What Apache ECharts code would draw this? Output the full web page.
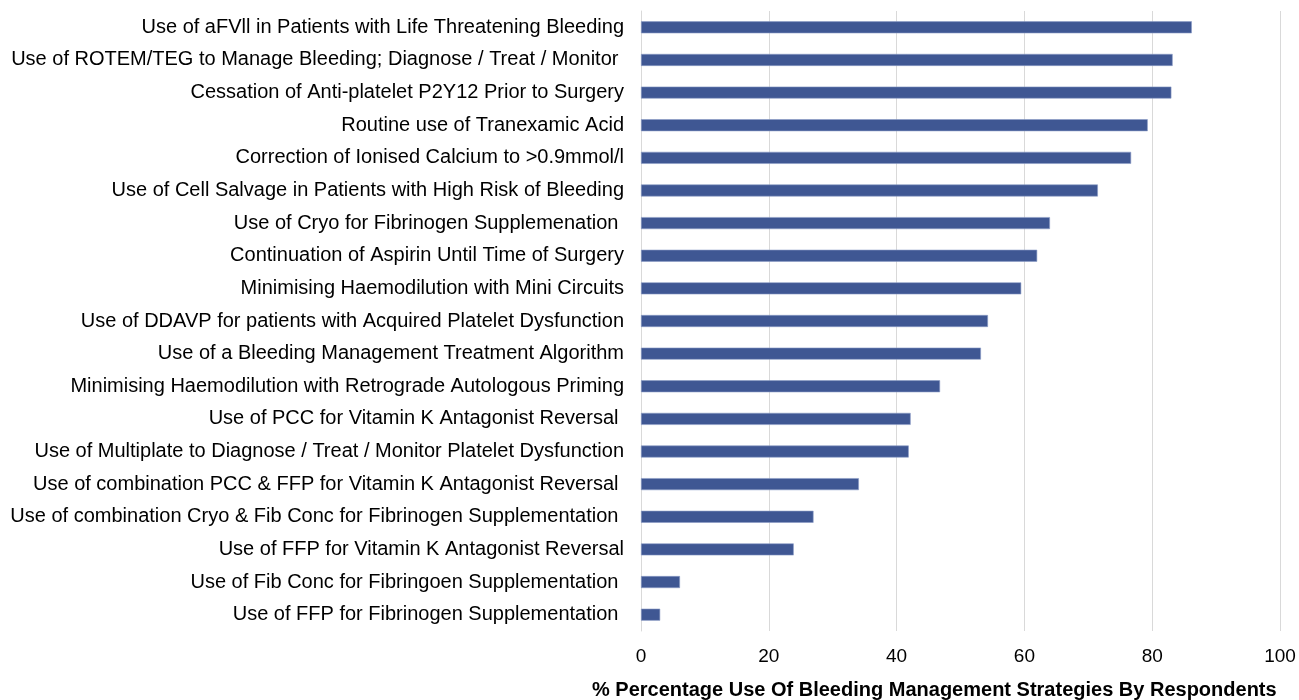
<!DOCTYPE html>
<html><head><meta charset="utf-8">
<script src="https://cdn.jsdelivr.net/npm/echarts@6/dist/echarts.min.js"></script>
<style>html,body{margin:0;padding:0;background:#fff}#c{width:1299px;height:700px}</style>
</head><body><div id="c"></div>
<script>
const categories = [
  "Use of aFVll in Patients with Life Threatening Bleeding",
  "Use of ROTEM/TEG to Manage Bleeding; Diagnose / Treat / Monitor ",
  "Cessation of Anti-platelet P2Y12 Prior to Surgery",
  "Routine use of Tranexamic Acid",
  "Correction of Ionised Calcium to >0.9mmol/l",
  "Use of Cell Salvage in Patients with High Risk of Bleeding",
  "Use of Cryo for Fibrinogen Supplemenation ",
  "Continuation of Aspirin Until Time of Surgery",
  "Minimising Haemodilution with Mini Circuits",
  "Use of DDAVP for patients with Acquired Platelet Dysfunction",
  "Use of a Bleeding Management Treatment Algorithm",
  "Minimising Haemodilution with Retrograde Autologous Priming",
  "Use of PCC for Vitamin K Antagonist Reversal ",
  "Use of Multiplate to Diagnose / Treat / Monitor Platelet Dysfunction",
  "Use of combination PCC & FFP for Vitamin K Antagonist Reversal ",
  "Use of combination Cryo & Fib Conc for Fibrinogen Supplementation ",
  "Use of FFP for Vitamin K Antagonist Reversal",
  "Use of Fib Conc for Fibringoen Supplementation ",
  "Use of FFP for Fibrinogen Supplementation "
];
const values = [86.2, 83.2, 83.0, 79.3, 76.7, 71.5, 64.0, 62.0, 59.5, 54.3, 53.2, 46.8, 42.2, 41.9, 34.1, 27.0, 23.9, 6.1, 3.0];
const xTicks = [0, 20, 40, 60, 80, 100];
const axisTitle = "% Percentage Use Of Bleeding Management Strategies By Respondents";

const chart = echarts.init(document.getElementById('c'));
chart.setOption({
  animation: false,
  textStyle: { fontFamily: 'Liberation Sans, Arial, sans-serif' },
  title: {
    text: axisTitle,
    left: 592, top: 680, padding: 0,
    textStyle: { fontSize: 20, fontWeight: 'bold', color: '#000', fontFamily: 'Liberation Sans, Arial, sans-serif' }
  },
  grid: { left: 641, right: 19, top: 11, bottom: 69, containLabel: false },
  xAxis: {
    type: 'value', min: xTicks[0], max: xTicks[xTicks.length - 1], interval: 20,
    axisLine: { show: false }, axisTick: { show: false },
    splitLine: { show: true, lineStyle: { color: '#d9d9d9', width: 1 } },
    axisLabel: { fontSize: 19, color: '#000', margin: 16, formatter: v => xTicks.includes(v) ? String(v) : '' }
  },
  yAxis: {
    type: 'category', inverse: true, data: categories,
    axisLine: { show: true, lineStyle: { color: '#d9d9d9', width: 1 } },
    axisTick: { show: false },
    axisLabel: { fontSize: 20, color: '#000', margin: 17 }
  },
  series: [{
    type: 'bar', data: values, barWidth: 12,
    itemStyle: { color: '#3f5793', borderColor: '#8b9cc6', borderWidth: 0.6 }
  }]
});
</script></body></html>
